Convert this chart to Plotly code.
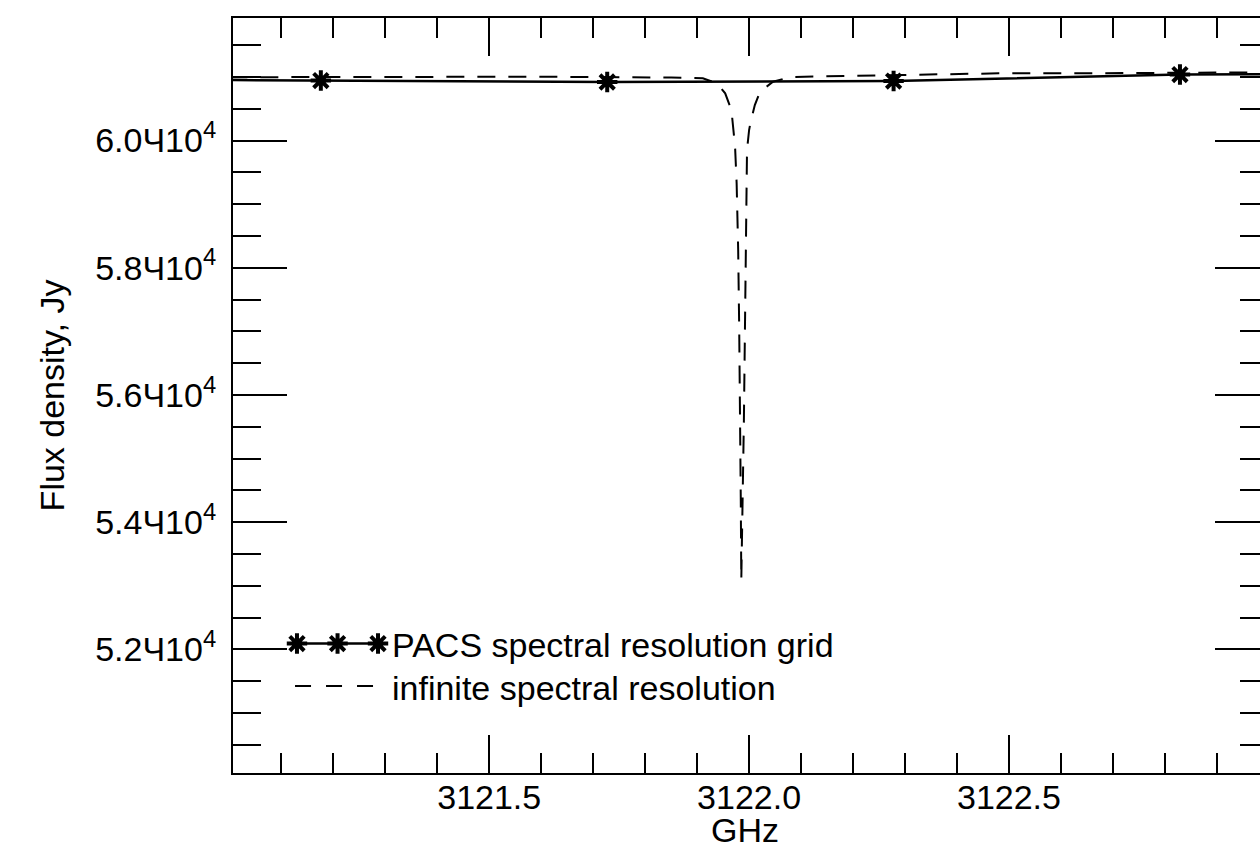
import plotly.graph_objects as go

# ---------------- data ----------------
# PACS spectral resolution grid (GHz, Jy)
pacs_ghz = [3120.625, 3121.176, 3121.727, 3122.278, 3122.829, 3123.380]
pacs_jy = [60965, 60943, 60920, 60935, 61037, 61050]

# infinite spectral resolution spectrum (GHz, Jy)
inf_ghz = [3121.000, 3121.300, 3121.600, 3121.850, 3121.911, 3121.938, 3121.954,
           3121.966, 3121.973, 3121.976, 3121.979, 3121.981, 3121.983, 3121.984,
           3121.985, 3121.988, 3121.990, 3121.992, 3121.994, 3121.995, 3121.996,
           3122.000, 3122.003, 3122.011, 3122.021, 3122.046, 3122.079, 3122.290,
           3122.480, 3122.680, 3122.870, 3123.000]
inf_jy = [60995, 61000, 61003, 60990, 60978, 60899, 60742,
          60479, 59903, 59332, 58279, 57021, 55606, 54349,
          53090, 54349, 55606, 57021, 58279, 59332, 59851,
          60165, 60296, 60558, 60767, 60924, 60998, 61030,
          61056, 61058, 61066, 61072]

# axis ticks / labels
x_major = [3121.5, 3122.0, 3122.5]
x_labels = ["3121.5", "3122.0", "3122.5"]
x_minor = [round(3121.0 + 0.1 * i, 1) for i in range(21)]
y_major = [52000, 54000, 56000, 58000, 60000]
y_labels = ["5.2Ч10<sup>4</sup>", "5.4Ч10<sup>4</sup>", "5.6Ч10<sup>4</sup>",
            "5.8Ч10<sup>4</sup>", "6.0Ч10<sup>4</sup>"]
y_minor = [50000 + 500 * i for i in range(25)]

x_range = [3121.007, 3122.983]
y_range = [50057, 61926]

x_title = "GHz"
y_title = "Flux density, Jy"
series_names = ["PACS spectral resolution grid", "infinite spectral resolution"]

# ---------------- styling ----------------
FONT = "Liberation Sans, Arial, Helvetica, sans-serif"
FS = 34
BLACK = "black"

fig = go.Figure()

fig.add_trace(go.Scatter(
    x=inf_ghz, y=inf_jy, mode="lines", name=series_names[1],
    line=dict(color=BLACK, width=2, dash="18px,13px"), showlegend=False))

fig.add_trace(go.Scatter(
    x=pacs_ghz, y=pacs_jy, mode="lines+markers", name=series_names[0],
    line=dict(color=BLACK, width=2.5),
    marker=dict(symbol="asterisk-open", size=17, color=BLACK,
                line=dict(color=BLACK, width=4)),
    showlegend=False))

# invisible trace so the mirrored (top/right) tick axes are drawn
fig.add_trace(go.Scatter(
    x=pacs_ghz, y=pacs_jy, xaxis="x2", yaxis="y2", mode="lines",
    line=dict(width=0, color="rgba(0,0,0,0)"), hoverinfo="skip", showlegend=False))

# custom legend samples on a helper axis (0..1 of the plot area)
LEG = dict(star_x=[0.0623, 0.1018, 0.1412], star_y=0.1715,
           dash_x=[0.0604, 0.1383], dash_y=0.1152,
           text_x=0.1529, text_y=[0.170, 0.112])

fig.add_trace(go.Scatter(
    x=LEG["star_x"], y=[LEG["star_y"]] * 3, xaxis="x3", yaxis="y3",
    mode="lines+markers", line=dict(color=BLACK, width=2.5),
    marker=dict(symbol="asterisk-open", size=17, color=BLACK,
                line=dict(color=BLACK, width=4)),
    hoverinfo="skip", showlegend=False))
fig.add_trace(go.Scatter(
    x=LEG["dash_x"], y=[LEG["dash_y"]] * 2, xaxis="x3", yaxis="y3",
    mode="lines", line=dict(color=BLACK, width=2, dash="16px,15px"),
    hoverinfo="skip", showlegend=False))

for name, ty in zip(series_names, LEG["text_y"]):
    fig.add_annotation(x=LEG["text_x"], y=ty, xref="paper", yref="paper",
                       text=name, showarrow=False, xanchor="left", yanchor="middle",
                       font=dict(family=FONT, size=FS, color=BLACK))

# x-axis title (sits partly below the page edge, as in the reference)
fig.add_annotation(x=0.4985, y=-0.0752, xref="paper", yref="paper", text=x_title,
                   showarrow=False, xanchor="center", yanchor="middle",
                   font=dict(family=FONT, size=FS, color=BLACK))

tick_common = dict(tickcolor=BLACK, tickwidth=2, showgrid=False, zeroline=False,
                   ticks="inside", automargin=False)

fig.update_layout(
    width=1260, height=842, autosize=False,
    margin=dict(l=233, r=0, t=18, b=69, pad=0),
    paper_bgcolor="white", plot_bgcolor="white",
    font=dict(family=FONT, size=FS, color=BLACK),
    xaxis=dict(range=x_range, showline=True, linewidth=2, linecolor=BLACK,
               tickmode="array", tickvals=x_major, ticktext=x_labels, ticklen=38,
               ticklabelstandoff=-7,
               tickfont=dict(family=FONT, size=FS, color=BLACK),
               minor=dict(tickmode="array", tickvals=x_minor, ticklen=20, tickwidth=2,
                          tickcolor=BLACK, ticks="inside"),
               **tick_common),
    yaxis=dict(range=y_range, showline=True, linewidth=2, linecolor=BLACK,
               tickmode="array", tickvals=y_major, ticktext=y_labels, ticklen=54,
               ticklabelstandoff=8,
               tickfont=dict(family=FONT, size=FS, color=BLACK),
               minor=dict(tickmode="array", tickvals=y_minor, ticklen=28, tickwidth=2,
                          tickcolor=BLACK, ticks="inside"),
               title=dict(text=y_title, font=dict(family=FONT, size=FS),
                          standoff=20),
               **tick_common),
    xaxis2=dict(range=x_range, overlaying="x", side="top", anchor="y2",
                showline=True, linewidth=2, linecolor=BLACK, showticklabels=False,
                tickmode="array", tickvals=x_major, ticklen=38,
                minor=dict(tickmode="array", tickvals=x_minor, ticklen=20, tickwidth=2,
                           tickcolor=BLACK, ticks="inside"),
                **tick_common),
    yaxis2=dict(range=y_range, overlaying="y", side="right", anchor="x2",
                showline=False, showticklabels=False,
                tickmode="array", tickvals=y_major, ticklen=45,
                minor=dict(tickmode="array", tickvals=y_minor, ticklen=20, tickwidth=2,
                           tickcolor=BLACK, ticks="inside"),
                **tick_common),
    xaxis3=dict(range=[0, 1], overlaying="x", visible=False, anchor="y3"),
    yaxis3=dict(range=[0, 1], overlaying="y", visible=False, anchor="x3"),
)

fig.write_html(
    "out.html",
    config={"displayModeBar": False},
    post_script="document.body.style.margin='0';document.body.style.overflow='hidden';",
)
